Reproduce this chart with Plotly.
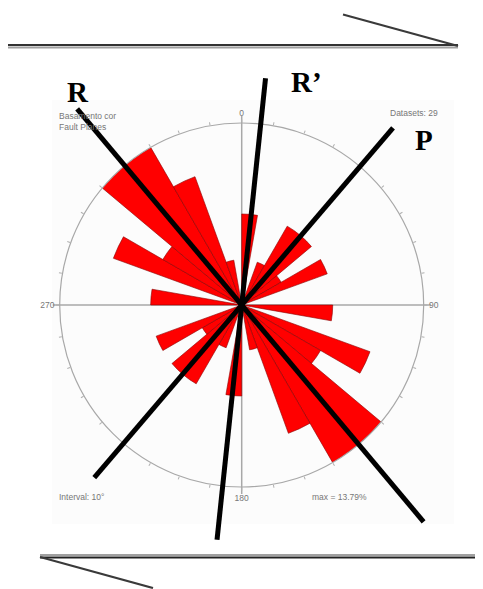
import math
import plotly.graph_objects as go

# ---------------- data ----------------
# bidirectional rose diagram, 10 degree bins, counts out of 29 datasets
bin_width = 10
half_bins_start = list(range(0, 180, 10))
half_counts = [2, 0, 1, 2, 2, 1, 2, 0, 0, 2, 0, 3, 2, 4, 4, 3, 1, 0]
n_datasets = 29
max_pct = 13.79

# interpreted structural lines (azimuth of one end, lengths in px of both ends)
line_labels = ["R", "R\u2019", "P"]
line_azimuth = [320.0, 6.0, 40.5]
line_len_a = [256, 228, 233]
line_len_b = [283, 236, 227]

cardinal_ticks = [0, 90, 180, 270]
cardinal_text = ["0", "90", "180", "270"]

corner_texts = ["Basamento cor<br>Fault Planes", "Datasets: 29", "Interval: 10\u00b0", "max = 13.79%"]

# ---------------- layout geometry ----------------
OFF = 8  # page body margin of the html output
W, H = 483 - OFF, 589 - OFF
cx, cy, R = 241.7, 305.0, 182.0


def px(x, y):
    return (x - OFF) / W, 1 - (y - OFF) / H


theta_centers = [a + bin_width / 2 for a in half_bins_start] + [a + 180 + bin_width / 2 for a in half_bins_start]
counts = half_counts + half_counts
r_vals = [c / n_datasets * 100 for c in counts]

fig = go.Figure()

fig.add_trace(go.Barpolar(
    r=r_vals, theta=theta_centers, width=[bin_width] * len(r_vals),
    marker=dict(color="#ff0000", line=dict(color="#8a0000", width=0.6)),
    opacity=1, showlegend=False, hoverinfo="skip"))

shapes = []
# faint panel behind the diagram
x0, y0 = px(52, 100)
x1, y1 = px(454, 524)
shapes.append(dict(type="rect", xref="paper", yref="paper", x0=x0, y0=y1, x1=x1, y1=y0,
                   fillcolor="#fcfcfc", line=dict(width=0), layer="below"))

# crosshair through centre
ext = R + 7
for az in (0, 90):
    a = math.radians(az)
    xa, ya = px(cx + ext * math.sin(a), cy - ext * math.cos(a))
    xb, yb = px(cx - ext * math.sin(a), cy + ext * math.cos(a))
    shapes.append(dict(type="line", xref="paper", yref="paper", x0=xa, y0=ya, x1=xb, y1=yb,
                       line=dict(color="#a8a8a8", width=1.5), layer="below"))

# structural lines
for az, la, lb in zip(line_azimuth, line_len_a, line_len_b):
    a = math.radians(az)
    xa, ya = px(cx + la * math.sin(a), cy - la * math.cos(a))
    xb, yb = px(cx - lb * math.sin(a), cy + lb * math.cos(a))
    shapes.append(dict(type="line", xref="paper", yref="paper", x0=xa, y0=ya, x1=xb, y1=yb,
                       line=dict(color="#000000", width=5)))

# shear half-arrows (top and bottom)
def seg(xa, ya, xb, yb, color, width):
    pa = px(xa, ya)
    pb = px(xb, yb)
    shapes.append(dict(type="line", xref="paper", yref="paper", x0=pa[0], y0=pa[1], x1=pb[0], y1=pb[1],
                       line=dict(color=color, width=width)))

seg(8, 47.5, 458, 47.5, "#a0a0a0", 2)
seg(8, 45, 458, 45, "#333333", 2.2)
seg(343, 14.5, 458, 46, "#3a3a3a", 2.2)
seg(40, 555, 483, 555, "#a0a0a0", 2)
seg(40, 557.5, 483, 557.5, "#222222", 2.2)
seg(40, 557, 153, 588, "#3a3a3a", 2.2)

annotations = []
label_pos = [(78, 92), (306, 82), (424, 140)]
for txt, (x, y) in zip(line_labels, label_pos):
    ax_, ay_ = px(x, y)
    annotations.append(dict(text="<b>%s</b>" % txt, x=ax_, y=ay_, xref="paper", yref="paper",
                            showarrow=False, xanchor="center", yanchor="middle",
                            font=dict(family="Liberation Serif", size=29, color="#000000")))

small_font = dict(family="Liberation Sans", size=8.5, color="#777777")
corner_pos = [(57, 121, "left"), (440, 113, "right"), (57, 497, "left"), (310, 497, "left")]
for txt, (x, y, anc) in zip(corner_texts, corner_pos):
    ax_, ay_ = px(x, y)
    annotations.append(dict(text=txt, x=ax_, y=ay_, xref="paper", yref="paper", showarrow=False,
                            xanchor=anc, yanchor="middle", align="left", font=small_font))

dx0, dy0 = px(cx - R, cy - R)
dx1, dy1 = px(cx + R, cy + R)

ticks = list(range(0, 360, 10))
ticktext = [cardinal_text[cardinal_ticks.index(t)] if t in cardinal_ticks else "" for t in ticks]

fig.update_layout(
    width=W, height=H,
    margin=dict(l=0, r=0, t=0, b=0),
    paper_bgcolor="white",
    plot_bgcolor="white",
    showlegend=False,
    shapes=shapes,
    annotations=annotations,
    polar=dict(
        domain=dict(x=[dx0, dx1], y=[dy1, dy0]),
        bgcolor="rgba(0,0,0,0)",
        bargap=0,
        radialaxis=dict(range=[0, max_pct], visible=False, showgrid=False),
        angularaxis=dict(rotation=90, direction="clockwise",
                         tickmode="array", tickvals=ticks, ticktext=ticktext,
                         ticks="outside", ticklen=3, tickcolor="#b0b0b0",
                         showgrid=False, showline=True, linecolor="#a8a8a8", linewidth=1.2,
                         tickfont=dict(family="Liberation Sans", size=8.5, color="#777777")),
    ),
)

fig.write_html("out.html")
